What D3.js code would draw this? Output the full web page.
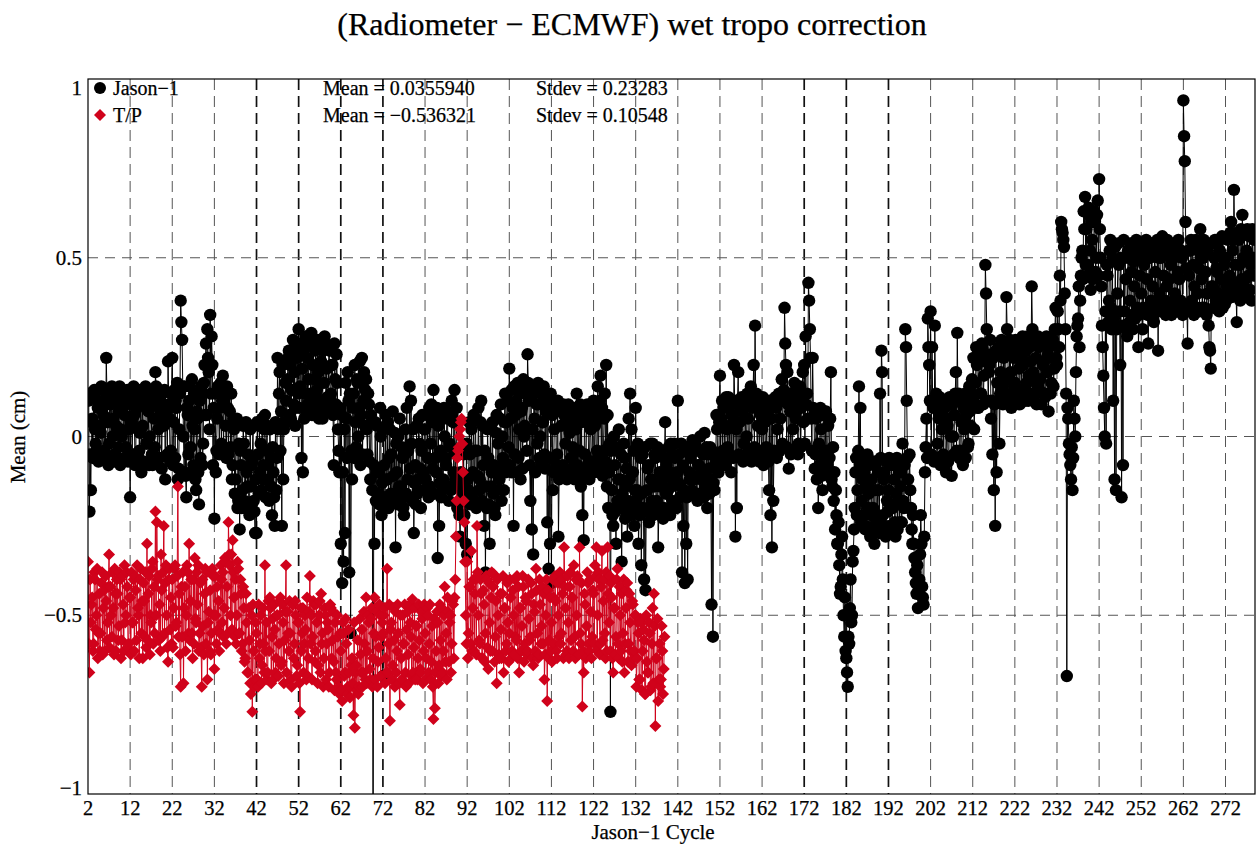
<!DOCTYPE html>
<html><head><meta charset="utf-8">
<script src="https://cdn.jsdelivr.net/npm/d3@7"></script>
<style>
html,body{margin:0;padding:0;background:#fff;}
svg{display:block;}
text{font-family:"Liberation Serif","Times New Roman",Times,serif;fill:#000;stroke:#000;stroke-width:0.25px;}
</style></head><body>
<svg id="chart" width="1259" height="844"></svg>
<script>
const title = "(Radiometer \u2212 ECMWF) wet tropo correction";
const xLabel = "Jason\u22121 Cycle";
const yLabel = "Mean (cm)";
const xTicks = [2,12,22,32,42,52,62,72,82,92,102,112,122,132,142,152,162,172,182,192,202,212,222,232,242,252,262,272];
const yTicks = [-1,-0.5,0,0.5,1];
const yTickLabels = ["\u22121","\u22120.5","0","0.5","1"];
const seriesNames = ["Jason\u22121","T/P"];
const seriesMeans = ["0.0355940","\u22120.536321"];
const seriesStdevs = ["0.23283","0.10548"];
const samplesPerCycle = 6;
const jasonStartCycle = 2;
const tpStartCycle = 2;

// Jason-1 means (cm), 6 samples per cycle from cycle 2
const jasonValues = [
/*2-3*/ 0.10,0.12,-0.21,-0.05,-0.15,0.04, 0.05,-0.06,0.11,0.13,0.02,-0.02,
/*4-5*/ -0.04,0.10,0.08,-0.07,0.13,0.03, 0.01,0.14,-0.06,0.08,0.06,-0.04,
/*6-7*/ 0.10,-0.05,0.22,0.12,0.04,-0.08, -0.02,0.11,0.09,-0.06,0.14,0.00,
/*8-9*/ 0.05,-0.07,-0.05,0.12,0.03,0.09, 0.12,-0.03,0.07,0.14,-0.08,0.02,
/*10-11*/ 0.00,0.13,0.11,-0.06,0.06,0.09, -0.03,0.10,0.13,-0.07,0.02,0.12,
/*12-13*/ -0.17,0.09,0.04,-0.05,0.12,0.14, 0.06,-0.08,-0.05,0.11,0.08,0.02,
/*14-15*/ 0.13,-0.04,0.01,0.09,-0.10,0.12, 0.03,-0.07,0.10,0.13,0.14,-0.02,
/*16-17*/ -0.02,0.11,0.07,-0.08,0.00,0.09, 0.09,-0.05,-0.08,0.12,0.05,-0.03,
/*18-19*/ 0.18,0.14,0.11,-0.06,0.02,0.08, -0.06,0.10,0.06,-0.09,0.12,0.04,
/*20-21*/ 0.03,0.13,-0.12,0.07,0.08,-0.05, 0.21,0.09,0.05,-0.07,-0.04,0.12,
/*22-23*/ 0.22,-0.08,0.04,0.13,-0.06,0.10, 0.08,0.15,-0.12,-0.09,0.02,0.12,
/*24-25*/ 0.38,0.32,0.27,0.14,0.00,-0.10, 0.14,-0.11,-0.17,0.08,0.06,-0.05,
/*26-27*/ 0.10,0.14,-0.03,-0.10,0.16,0.03, -0.08,0.12,0.02,-0.12,-0.15,0.07,
/*28-29*/ 0.05,-0.10,-0.19,0.10,-0.06,0.14, 0.12,-0.08,-0.02,0.15,0.20,0.06,
/*30-31*/ 0.26,0.06,0.30,0.22,0.18,0.02, 0.34,0.12,0.28,0.20,-0.08,0.08,
/*32-33*/ -0.23,0.12,-0.10,-0.04,0.05,0.14, 0.12,-0.05,0.08,0.15,-0.02,0.10,
/*34-35*/ 0.17,-0.04,0.10,0.13,0.03,-0.06, 0.14,0.08,-0.05,0.12,0.07,-0.03,
/*36-37*/ 0.12,-0.12,-0.08,0.05,0.02,-0.16, -0.12,0.04,0.05,-0.20,-0.18,-0.02,
/*38-39*/ -0.26,-0.04,-0.08,-0.20,-0.15,0.03, -0.02,-0.18,-0.20,0.04,-0.10,-0.14,
/*40-41*/ -0.05,-0.19,-0.22,0.02,-0.14,-0.08, -0.07,0.03,-0.18,-0.21,-0.27,-0.12,
/*42-43*/ -0.27,0.04,-0.05,-0.16,0.03,-0.10, -0.02,-0.15,0.05,-0.12,-0.08,0.02,
/*44-45*/ 0.06,-0.17,-0.04,0.03,-0.12,-0.08, -0.18,0.02,-0.06,-0.14,-0.22,-0.03,
/*46-47*/ -0.10,-0.17,-0.25,0.04,-0.15,-0.06, 0.22,0.02,0.12,0.18,-0.04,0.07,
/*48-49*/ -0.25,0.20,-0.12,0.02,0.04,0.15, 0.10,0.04,0.16,0.22,0.24,0.06,
/*50-51*/ 0.20,0.05,0.13,0.24,0.27,0.09, 0.18,0.03,0.08,0.25,0.22,0.12,
/*52-53*/ 0.30,0.08,0.14,0.26,-0.06,0.19, -0.10,0.24,0.05,0.12,0.28,0.07,
/*54-55*/ 0.22,0.09,0.16,0.28,0.26,0.12, 0.29,0.06,0.20,0.25,0.10,0.16,
/*56-57*/ 0.24,0.08,0.13,0.27,0.18,0.05, 0.27,0.10,0.21,0.06,0.05,0.24,
/*58-59*/ 0.15,0.28,0.26,0.07,0.19,0.11, 0.08,0.25,0.24,0.10,0.12,0.20,
/*60-61*/ 0.20,0.06,-0.08,0.26,0.16,0.09, 0.23,0.15,0.02,-0.04,-0.10,0.08,
/*62-63*/ -0.30,0.06,-0.41,-0.10,-0.35,0.02, -0.27,0.15,0.05,-0.06,0.18,0.10,
/*64-65*/ -0.38,0.12,-0.55,-0.04,-0.12,0.08, 0.12,-0.06,0.20,0.04,-0.03,0.16,
/*66-67*/ 0.15,0.00,0.08,0.21,-0.08,0.06, 0.22,-0.05,0.10,0.18,0.03,0.13,
/*68-69*/ 0.16,0.02,-0.05,0.12,0.09,-0.07, -0.12,0.06,0.04,-0.15,-1.30,-0.08,
/*70-71*/ -0.30,0.04,-0.18,-0.10,0.03,-0.16, -0.10,-0.19,0.08,0.00,-0.22,-0.13,
/*72-73*/ -0.67,0.02,-0.08,-0.17,0.06,-0.12, -0.12,0.04,-0.20,-0.06,0.02,-0.16,
/*74-75*/ -0.05,-0.18,0.07,-0.11,-0.16,0.01, -0.31,-0.02,-0.10,-0.19,0.00,-0.14,
/*76-77*/ 0.05,-0.18,-0.14,-0.03,-0.06,-0.20, -0.22,-0.05,0.02,-0.16,0.08,-0.12,
/*78-79*/ -0.04,-0.17,0.14,-0.09,0.10,-0.02, -0.18,0.02,-0.27,-0.13,-0.08,-0.19,
/*80-81*/ 0.03,-0.16,-0.12,0.05,-0.02,-0.09, -0.20,-0.04,0.06,-0.15,-0.10,0.02,
/*82-83*/ 0.02,-0.12,-0.15,0.06,-0.06,-0.17, 0.08,-0.14,-0.02,0.09,0.04,-0.09,
/*84-85*/ 0.13,-0.16,0.06,-0.06,-0.10,0.08, -0.34,0.03,-0.25,-0.13,-0.04,-0.17,
/*86-87*/ 0.05,-0.15,-0.12,0.08,0.00,-0.06, -0.08,0.05,0.07,-0.14,-0.18,-0.02,
/*88-89*/ -0.03,-0.15,0.10,0.06,0.04,-0.10, 0.13,-0.12,-0.05,0.08,-0.20,-0.14,
/*90-91*/ -0.12,-0.22,-0.28,-0.10,-0.18,-0.14, -0.16,-0.05,-0.22,-0.12,-0.30,-0.02,
/*92-93*/ -0.33,-0.12,-0.15,0.04,-0.05,-0.19, 0.02,-0.17,-0.10,0.06,-0.18,-0.04,
/*94-95*/ 0.05,-0.20,-0.04,-0.11,0.08,-0.15, -0.12,0.04,0.10,-0.18,0.03,-0.08,
/*96-97*/ -0.25,-0.04,-0.38,-0.14,-0.20,0.02, -0.06,-0.19,-0.30,0.03,-0.14,-0.10,
/*98-99*/ 0.04,-0.16,-0.08,-0.20,-0.22,0.01, 0.06,-0.15,-0.02,-0.09,-0.12,0.05,
/*100-101*/ 0.09,-0.18,0.00,-0.06,-0.15,0.04, 0.12,-0.10,0.04,0.10,-0.08,-0.03,
/*102-103*/ 0.19,-0.08,0.05,0.13,-0.10,0.08, -0.25,0.14,-0.05,0.06,0.10,-0.10,
/*104-105*/ 0.15,-0.06,0.02,0.12,-0.12,0.07, 0.08,-0.09,0.16,0.00,0.03,0.13,
/*106-107*/ 0.12,-0.04,0.23,0.15,0.10,-0.08, -0.18,0.11,-0.26,0.02,-0.33,0.14,
/*108-109*/ 0.05,-0.10,0.13,0.09,-0.02,0.15, 0.09,-0.06,0.00,0.12,-0.08,0.04,
/*110-111*/ 0.04,0.14,-0.05,-0.09,0.07,0.10, -0.24,0.08,-0.37,-0.06,-0.30,0.12,
/*112-113*/ -0.41,0.06,-0.15,-0.10,0.02,0.09, 0.08,-0.08,-0.05,0.10,-0.28,-0.12,
/*114-115*/ -0.10,0.07,0.03,-0.11,-0.08,0.09, 0.06,-0.09,-0.02,0.08,-0.12,0.03,
/*116-117*/ 0.09,-0.11,0.01,0.06,-0.06,-0.09, -0.03,0.08,0.05,-0.12,-0.10,0.02,
/*118-119*/ 0.12,-0.08,0.06,-0.11,-0.04,0.09, -0.14,0.04,-0.22,-0.09,-0.29,0.07,
/*120-121*/ -0.05,-0.11,0.04,0.09,0.08,-0.07, -0.12,0.06,0.02,-0.09,-0.07,0.08,
/*122-123*/ 0.10,-0.10,0.03,0.07,-0.08,-0.04, 0.14,-0.06,0.05,0.10,0.17,-0.09,
/*124-125*/ 0.08,-0.11,-0.04,0.05,0.12,-0.07, 0.20,-0.14,0.06,-0.20,-0.10,-0.02,
/*126-127*/ -0.77,-0.04,-0.15,-0.22,-0.25,0.00, -0.08,-0.21,-0.30,-0.03,-0.18,-0.12,
/*128-129*/ 0.02,-0.20,-0.12,-0.05,-0.35,-0.16, -0.20,-0.02,-0.06,-0.23,-0.14,-0.09,
/*130-131*/ -0.28,-0.18,0.05,-0.12,0.12,-0.22, 0.02,-0.20,-0.10,-0.04,-0.25,-0.15,
/*132-133*/ 0.08,-0.18,-0.15,-0.02,-0.30,-0.22, -0.22,-0.06,-0.36,-0.16,-0.05,-0.20,
/*134-135*/ -0.40,-0.03,-0.43,-0.21,-0.15,-0.09, -0.08,-0.24,-0.20,-0.02,-0.12,-0.18,
/*136-137*/ -0.02,-0.22,-0.14,-0.05,-0.06,-0.19, -0.18,-0.03,-0.31,-0.21,-0.10,-0.14,
/*138-139*/ -0.04,-0.20,-0.12,-0.23,-0.20,-0.06, 0.04,-0.16,-0.08,-0.21,-0.15,-0.03,
/*140-141*/ -0.10,-0.22,-0.02,-0.14,-0.18,-0.05, -0.12,-0.02,-0.06,-0.19,-0.20,-0.10,
/*142-143*/ 0.10,-0.13,-0.05,-0.17,-0.14,-0.02, -0.38,-0.08,-0.25,-0.15,-0.41,-0.04,
/*144-145*/ -0.30,-0.17,-0.40,-0.03,-0.10,-0.12, -0.06,-0.16,-0.15,-0.01,-0.02,-0.11,
/*146-147*/ -0.12,-0.02,-0.04,-0.17,-0.18,-0.08, -0.08,-0.16,0.00,-0.12,-0.10,-0.04,
/*148-149*/ -0.05,-0.17,0.01,-0.10,-0.14,-0.03, -0.20,-0.05,-0.09,-0.16,-0.03,-0.12,
/*150-151*/ -0.47,-0.04,-0.56,-0.13,-0.15,-0.08, -0.06,0.06,0.02,-0.09,-0.10,0.04,
/*152-153*/ 0.17,-0.06,0.05,0.10,-0.04,0.08, 0.08,-0.07,-0.08,0.11,0.02,-0.03,
/*154-155*/ 0.11,-0.05,0.03,0.09,-0.10,0.06, 0.06,-0.06,0.20,0.10,-0.28,0.02,
/*156-157*/ -0.20,0.10,0.18,-0.05,0.04,0.08, -0.06,0.11,0.07,-0.07,-0.02,0.09,
/*158-159*/ 0.10,-0.05,0.00,0.12,0.05,-0.06, -0.04,0.09,0.14,-0.07,0.08,0.11,
/*160-161*/ 0.20,-0.03,0.31,0.10,0.12,-0.06, 0.03,0.10,-0.07,0.08,0.06,-0.04,
/*162-163*/ 0.02,0.11,-0.08,0.07,0.04,-0.05, -0.03,0.09,0.06,-0.07,-0.15,0.10,
/*164-165*/ -0.22,0.05,-0.31,0.09,-0.18,-0.04, -0.05,0.11,0.08,-0.06,0.02,0.10,
/*166-167*/ 0.12,-0.04,0.05,0.10,0.16,-0.02, 0.10,0.13,0.36,0.26,0.20,-0.03,
/*168-169*/ 0.18,0.09,-0.09,0.12,0.07,-0.05, 0.12,-0.04,0.02,0.10,0.15,0.06,
/*170-171*/ 0.05,0.12,0.10,-0.05,-0.02,0.08, 0.14,-0.03,0.08,0.11,0.18,0.04,
/*172-173*/ 0.20,-0.02,0.28,0.09,0.12,0.05, 0.43,0.38,0.30,0.22,0.05,-0.04,
/*174-175*/ 0.22,0.08,0.06,-0.09,-0.05,0.05, -0.12,0.06,-0.20,-0.02,-0.08,0.08,
/*176-177*/ 0.02,-0.11,-0.15,0.06,0.07,-0.06, -0.04,0.07,-0.10,-0.08,0.03,0.05,
/*178-179*/ -0.06,0.05,0.18,-0.12,-0.14,-0.03, -0.18,-0.10,-0.26,-0.15,-0.22,-0.30,
/*180-181*/ -0.30,-0.24,-0.36,-0.44,-0.42,-0.33, -0.28,-0.40,-0.50,-0.56,-0.45,-0.60,
/*182-183*/ -0.62,-0.66,-0.70,-0.56,-0.58,-0.48, -0.40,-0.52,-0.50,-0.35,-0.32,-0.26,
/*184-185*/ -0.20,-0.10,-0.06,-0.22,-0.15,-0.04, 0.14,-0.08,0.08,-0.24,-0.18,-0.12,
/*186-187*/ -0.22,-0.06,-0.10,-0.26,-0.25,-0.14, -0.05,-0.20,-0.16,-0.08,-0.28,-0.22,
/*188-189*/ -0.12,-0.26,-0.20,-0.07,-0.30,-0.15, -0.08,-0.24,-0.22,-0.10,-0.15,-0.27,
/*190-191*/ 0.12,-0.06,0.24,0.18,-0.22,-0.12, -0.10,-0.25,-0.28,-0.07,-0.18,-0.21,
/*192-193*/ -0.15,-0.06,-0.25,-0.20,-0.08,-0.27, -0.20,-0.08,-0.12,-0.24,-0.28,-0.16,
/*194-195*/ -0.06,-0.26,-0.18,-0.10,-0.24,-0.14, -0.10,-0.24,-0.02,-0.18,-0.20,-0.08,
/*196-197*/ 0.30,0.25,0.10,-0.06,-0.12,-0.20, -0.05,-0.15,-0.20,-0.26,-0.30,-0.22,
/*198-199*/ -0.30,-0.34,-0.38,-0.41,-0.44,-0.36, -0.48,-0.43,-0.40,-0.33,-0.22,-0.30,
/*200-201*/ -0.42,-0.45,-0.47,-0.28,-0.10,-0.03, 0.05,-0.06,0.33,0.25,0.20,0.10,
/*202-203*/ 0.35,-0.05,0.25,0.09,0.08,-0.07, 0.31,0.10,0.12,-0.06,-0.02,0.07,
/*204-205*/ 0.05,0.11,-0.08,-0.06,0.02,0.09, -0.05,0.10,0.08,-0.08,-0.10,0.05,
/*206-207*/ 0.03,-0.07,-0.06,0.11,0.10,0.00, -0.11,0.09,0.00,-0.05,0.06,0.12,
/*208-209*/ 0.18,-0.04,0.29,0.10,0.12,-0.06, -0.04,0.11,0.04,-0.07,-0.08,0.08,
/*210-211*/ 0.02,0.12,-0.06,0.06,0.09,-0.03, -0.02,0.14,0.07,0.03,0.12,0.16,
/*212-213*/ 0.10,0.22,0.02,0.09,0.15,0.25, 0.20,0.08,0.08,0.24,0.22,0.12,
/*214-215*/ 0.12,0.26,0.25,0.09,0.17,0.21, 0.48,0.40,0.30,0.23,0.10,0.18,
/*216-217*/ 0.20,0.27,0.05,0.10,-0.05,0.22, -0.15,0.09,-0.25,0.24,-0.10,0.15,
/*218-219*/ 0.10,0.25,-0.02,0.12,0.18,0.27, 0.14,0.09,0.22,0.26,0.12,0.17,
/*220-221*/ 0.39,0.30,0.24,0.10,0.16,0.27, 0.18,0.08,0.12,0.25,0.22,0.14,
/*222-223*/ 0.15,0.27,0.22,0.10,0.11,0.24, 0.19,0.09,0.26,0.22,0.13,0.28,
/*224-225*/ 0.20,0.12,0.10,0.27,0.24,0.15, 0.28,0.10,0.17,0.25,0.12,0.21,
/*226-227*/ 0.42,0.30,0.18,0.11,0.16,0.27, 0.22,0.09,0.14,0.28,0.25,0.13,
/*228-229*/ 0.16,0.26,0.09,0.21,0.20,0.12, 0.26,0.11,0.12,0.28,0.18,0.23,
/*230-231*/ 0.07,0.25,0.22,0.12,0.15,0.27, 0.27,0.14,0.19,0.30,0.36,0.22,
/*232-233*/ 0.20,0.35,0.30,0.25,0.45,0.38, 0.60,0.58,0.57,0.55,0.53,0.40,
/*234-235*/ 0.30,0.12,-0.67,0.08,0.05,-0.02, -0.05,-0.08,-0.12,-0.03,-0.15,-0.06,
/*236-237*/ 0.10,0.05,0.00,0.18,0.28,0.31, 0.33,0.42,0.25,0.38,0.45,0.50,
/*238-239*/ 0.52,0.44,0.63,0.58,0.67,0.48, 0.58,0.45,0.48,0.64,0.62,0.52,
/*240-241*/ 0.41,0.60,0.55,0.44,0.46,0.63, 0.60,0.46,0.50,0.62,0.66,0.45,
/*242-243*/ 0.72,0.58,0.50,0.42,0.31,0.25, 0.17,0.08,0.00,0.35,-0.02,0.48,
/*244-245*/ 0.45,0.32,0.38,0.52,0.55,0.36, 0.30,0.50,0.10,0.33,-0.12,0.53,
/*246-247*/ -0.15,0.30,0.40,0.54,0.48,0.35, 0.20,0.50,-0.17,0.31,-0.08,0.55,
/*248-249*/ 0.35,0.50,0.44,0.30,0.28,0.52, 0.50,0.32,0.38,0.54,0.46,0.34,
/*250-251*/ 0.30,0.49,0.42,0.33,0.52,0.55, 0.36,0.53,0.25,0.34,0.45,0.50,
/*252-253*/ 0.40,0.54,0.30,0.36,0.48,0.52, 0.35,0.55,0.44,0.34,0.26,0.50,
/*254-255*/ 0.50,0.36,0.38,0.54,0.42,0.33, 0.32,0.52,0.46,0.37,0.36,0.55,
/*256-257*/ 0.24,0.50,0.40,0.35,0.50,0.54, 0.56,0.36,0.45,0.52,0.38,0.34,
/*258-259*/ 0.42,0.55,0.52,0.36,0.44,0.50, 0.48,0.34,0.36,0.53,0.50,0.38,
/*260-261*/ 0.40,0.52,0.54,0.35,0.46,0.55, 0.44,0.36,0.38,0.52,0.50,0.34,
/*262-263*/ 0.94,0.84,0.77,0.60,0.47,0.36, 0.26,0.52,0.45,0.36,0.52,0.55,
/*264-265*/ 0.38,0.54,0.48,0.34,0.42,0.53, 0.55,0.36,0.40,0.52,0.47,0.35,
/*266-267*/ 0.58,0.50,0.44,0.36,0.50,0.55, 0.36,0.53,0.46,0.34,0.40,0.52,
/*268-269*/ 0.31,0.25,0.24,0.19,0.42,0.54, 0.42,0.36,0.50,0.55,0.38,0.47,
/*270-271*/ 0.46,0.54,0.40,0.35,0.52,0.38, 0.44,0.56,0.36,0.50,0.48,0.37,
/*272-273*/ 0.50,0.38,0.42,0.55,0.56,0.40, 0.45,0.57,0.60,0.39,0.52,0.43,
/*274-275*/ 0.69,0.55,0.48,0.40,0.32,0.56, 0.40,0.55,0.48,0.38,0.58,0.44,
/*276-277*/ 0.62,0.42,0.50,0.57,0.44,0.39, 0.52,0.58,0.40,0.45,0.56,0.41,
/*278*/ 0.48,0.38,0.58,0.50,0.45,0.55
];

// T/P means (cm), 6 samples per cycle from cycle 2
const tpValues = [
/*2-3*/ -0.35,-0.58,-0.66,-0.40,-0.52,-0.47, -0.45,-0.60,-0.58,-0.38,-0.40,-0.54,
/*4-5*/ -0.50,-0.37,-0.62,-0.55,-0.44,-0.60, -0.55,-0.41,-0.38,-0.61,-0.48,-0.43,
/*6-7*/ -0.60,-0.39,-0.46,-0.57,-0.52,-0.42, -0.33,-0.59,-0.42,-0.50,-0.56,-0.38,
/*8-9*/ -0.48,-0.61,-0.37,-0.44,-0.60,-0.40, -0.44,-0.57,-0.53,-0.38,-0.40,-0.62,
/*10-11*/ -0.57,-0.39,-0.47,-0.60,-0.36,-0.52, -0.50,-0.38,-0.42,-0.59,-0.58,-0.45,
/*12-13*/ -0.45,-0.61,-0.38,-0.52,-0.52,-0.40, -0.60,-0.39,-0.43,-0.57,-0.36,-0.48,
/*14-15*/ -0.50,-0.62,-0.40,-0.37,-0.55,-0.46, -0.62,-0.41,-0.46,-0.56,-0.38,-0.59,
/*16-17*/ -0.30,-0.57,-0.44,-0.39,-0.61,-0.50, -0.52,-0.37,-0.35,-0.58,-0.42,-0.55,
/*18-19*/ -0.21,-0.50,-0.24,-0.40,-0.39,-0.57, -0.47,-0.60,-0.33,-0.43,-0.56,-0.38,
/*20-21*/ -0.25,-0.55,-0.41,-0.36,-0.50,-0.59, -0.63,-0.40,-0.37,-0.54,-0.45,-0.58,
/*22-23*/ -0.40,-0.59,-0.48,-0.37,-0.36,-0.53, -0.52,-0.39,-0.14,-0.56,-0.44,-0.61,
/*24-25*/ -0.70,-0.42,-0.56,-0.38,-0.69,-0.48, -0.42,-0.60,-0.50,-0.36,-0.38,-0.55,
/*26-27*/ -0.30,-0.57,-0.46,-0.40,-0.55,-0.62, -0.40,-0.58,-0.34,-0.51,-0.52,-0.38,
/*28-29*/ -0.47,-0.36,-0.60,-0.55,-0.41,-0.59, -0.70,-0.40,-0.53,-0.61,-0.44,-0.37,
/*30-31*/ -0.58,-0.38,-0.68,-0.52,-0.49,-0.60, -0.43,-0.61,-0.55,-0.37,-0.39,-0.50,
/*32-33*/ -0.65,-0.39,-0.50,-0.58,-0.42,-0.54, -0.46,-0.60,-0.55,-0.36,-0.40,-0.52,
/*34-35*/ -0.38,-0.56,-0.48,-0.34,-0.35,-0.58, -0.42,-0.55,-0.24,-0.33,-0.36,-0.50,
/*36-37*/ -0.33,-0.54,-0.29,-0.38,-0.45,-0.56, -0.40,-0.58,-0.50,-0.35,-0.37,-0.55,
/*38-39*/ -0.55,-0.40,-0.44,-0.60,-0.58,-0.42, -0.48,-0.63,-0.62,-0.44,-0.52,-0.66,
/*40-41*/ -0.66,-0.48,-0.57,-0.69,-0.72,-0.50, -0.77,-0.47,-0.60,-0.70,-0.68,-0.52,
/*42-43*/ -0.55,-0.68,-0.70,-0.47,-0.62,-0.58, -0.50,-0.69,-0.64,-0.48,-0.58,-0.66,
/*44-45*/ -0.36,-0.60,-0.52,-0.68,-0.66,-0.46, -0.60,-0.45,-0.48,-0.69,-0.56,-0.51,
/*46-47*/ -0.68,-0.47,-0.54,-0.66,-0.62,-0.50, -0.50,-0.67,-0.58,-0.46,-0.45,-0.64,
/*48-49*/ -0.63,-0.47,-0.52,-0.69,-0.57,-0.49, -0.36,-0.66,-0.49,-0.55,-0.60,-0.46,
/*50-51*/ -0.55,-0.68,-0.70,-0.47,-0.47,-0.62, -0.58,-0.46,-0.50,-0.67,-0.64,-0.52,
/*52-53*/ -0.52,-0.69,-0.77,-0.48,-0.60,-0.55, -0.48,-0.66,-0.58,-0.50,-0.54,-0.68,
/*54-55*/ -0.45,-0.67,-0.62,-0.49,-0.39,-0.58, -0.50,-0.68,-0.56,-0.46,-0.47,-0.63,
/*56-57*/ -0.60,-0.47,-0.52,-0.69,-0.64,-0.50, -0.46,-0.66,-0.44,-0.58,-0.55,-0.70,
/*58-59*/ -0.62,-0.48,-0.50,-0.68,-0.58,-0.52, -0.54,-0.70,-0.66,-0.47,-0.48,-0.62,
/*60-61*/ -0.57,-0.49,-0.63,-0.71,-0.52,-0.66, -0.68,-0.50,-0.56,-0.70,-0.72,-0.55,
/*62-63*/ -0.60,-0.71,-0.74,-0.52,-0.55,-0.67, -0.66,-0.51,-0.58,-0.72,-0.70,-0.54,
/*64-65*/ -0.66,-0.73,-0.70,-0.64,-0.62,-0.69, -0.78,-0.52,-0.815,-0.66,-0.64,-0.71,
/*66-67*/ -0.57,-0.72,-0.70,-0.51,-0.61,-0.66, -0.54,-0.70,-0.66,-0.49,-0.58,-0.68,
/*68-69*/ -0.45,-0.69,-0.60,-0.50,-0.52,-0.65, -0.68,-0.51,-0.48,-0.70,-0.62,-0.55,
/*70-71*/ -0.45,-0.68,-0.56,-0.49,-0.70,-0.63, -0.59,-0.47,-0.50,-0.67,-0.56,-0.52,
/*72-73*/ -0.55,-0.50,-0.48,-0.69,-0.62,-0.66, -0.37,-0.66,-0.58,-0.47,-0.795,-0.54,
/*74-75*/ -0.52,-0.68,-0.64,-0.48,-0.57,-0.70, -0.49,-0.66,-0.60,-0.47,-0.55,-0.69,
/*76-77*/ -0.75,-0.50,-0.62,-0.68,-0.50,-0.58, -0.58,-0.47,-0.66,-0.70,-0.54,-0.49,
/*78-79*/ -0.61,-0.69,-0.47,-0.52,-0.56,-0.67, -0.455,-0.66,-0.59,-0.48,-0.68,-0.53,
/*80-81*/ -0.53,-0.68,-0.62,-0.47,-0.57,-0.65, -0.66,-0.49,-0.51,-0.69,-0.60,-0.47,
/*82-83*/ -0.55,-0.68,-0.62,-0.48,-0.50,-0.66, -0.58,-0.47,-0.68,-0.63,-0.53,-0.70,
/*84-85*/ -0.79,-0.51,-0.76,-0.66,-0.60,-0.49, -0.52,-0.69,-0.64,-0.47,-0.57,-0.67,
/*86-87*/ -0.48,-0.66,-0.60,-0.50,-0.42,-0.63, -0.55,-0.68,-0.45,-0.49,-0.63,-0.52,
/*88-89*/ -0.50,-0.66,-0.58,-0.46,-0.47,-0.62, -0.45,-0.40,-0.28,-0.18,-0.06,-0.04,
/*90-91*/ -0.03,0.00,0.02,0.04,0.05,-0.02, -0.10,-0.18,-0.24,-0.35,-0.50,-0.58,
/*92-93*/ -0.35,-0.62,-0.55,-0.42,-0.42,-0.58, -0.32,-0.60,-0.48,-0.40,-0.60,-0.44,
/*94-95*/ -0.40,-0.61,-0.25,-0.38,-0.50,-0.57, -0.58,-0.40,-0.44,-0.62,-0.62,-0.43,
/*96-97*/ -0.47,-0.63,-0.55,-0.39,-0.40,-0.59, -0.65,-0.41,-0.52,-0.60,-0.45,-0.38,
/*98-99*/ -0.60,-0.42,-0.385,-0.63,-0.56,-0.46, -0.69,-0.40,-0.50,-0.61,-0.62,-0.44,
/*100-101*/ -0.54,-0.62,-0.44,-0.39,-0.66,-0.48, -0.48,-0.60,-0.58,-0.41,-0.52,-0.63,
/*102-103*/ -0.55,-0.40,-0.45,-0.62,-0.60,-0.43, -0.50,-0.61,-0.40,-0.56,-0.57,-0.39,
/*104-105*/ -0.62,-0.42,-0.66,-0.48,-0.48,-0.60, -0.53,-0.39,-0.42,-0.63,-0.58,-0.45,
/*106-107*/ -0.46,-0.61,-0.60,-0.40,-0.51,-0.57, -0.56,-0.41,-0.44,-0.62,-0.64,-0.47,
/*108-109*/ -0.49,-0.60,-0.37,-0.43,-0.55,-0.62, -0.61,-0.40,-0.47,-0.58,-0.53,-0.42,
/*110-111*/ -0.58,-0.44,-0.68,-0.61,-0.50,-0.40, -0.74,-0.43,-0.62,-0.57,-0.45,-0.60,
/*112-113*/ -0.52,-0.63,-0.40,-0.45,-0.58,-0.39, -0.46,-0.60,-0.62,-0.41,-0.50,-0.56,
/*114-115*/ -0.38,-0.58,-0.55,-0.40,-0.44,-0.62, -0.31,-0.42,-0.48,-0.61,-0.60,-0.39,
/*116-117*/ -0.52,-0.62,-0.42,-0.38,-0.57,-0.45, -0.45,-0.60,-0.36,-0.56,-0.62,-0.40,
/*118-119*/ -0.50,-0.39,-0.40,-0.61,-0.31,-0.55, -0.58,-0.41,-0.755,-0.60,-0.66,-0.44,
/*120-121*/ -0.47,-0.62,-0.53,-0.38,-0.41,-0.58, -0.60,-0.40,-0.49,-0.62,-0.56,-0.43,
/*122-123*/ -0.44,-0.58,-0.36,-0.39,-0.31,-0.60, -0.50,-0.38,-0.40,-0.61,-0.58,-0.42,
/*124-125*/ -0.32,-0.57,-0.46,-0.40,-0.55,-0.62, -0.38,-0.60,-0.31,-0.44,-0.52,-0.39,
/*126-127*/ -0.60,-0.41,-0.45,-0.62,-0.66,-0.48, -0.48,-0.61,-0.56,-0.40,-0.37,-0.58,
/*128-129*/ -0.62,-0.42,-0.50,-0.60,-0.44,-0.63, -0.55,-0.40,-0.66,-0.58,-0.48,-0.43,
/*130-131*/ -0.41,-0.63,-0.58,-0.44,-0.52,-0.60, -0.64,-0.46,-0.47,-0.62,-0.60,-0.50,
/*132-133*/ -0.50,-0.70,-0.62,-0.52,-0.55,-0.68, -0.68,-0.51,-0.52,-0.71,-0.60,-0.54,
/*134-135*/ -0.57,-0.72,-0.72,-0.50,-0.63,-0.66, -0.66,-0.52,-0.55,-0.71,-0.70,-0.58,
/*136-137*/ -0.48,-0.69,-0.44,-0.53,-0.81,-0.62, -0.62,-0.51,-0.74,-0.68,-0.58,-0.70,
/*138*/ -0.68,-0.53,-0.60,-0.72,-0.65,-0.56
];

const boldGridCycles = [42,52,62,72,172,182,192];
const jasonColor = "#000000";
const tpColor = "#d0021b";

const plot = {left:88, right:1255, top:79, bottom:794};
const svg = d3.select("#chart");
const x = d3.scaleLinear().domain([2,279]).range([plot.left, plot.right]);
const y = d3.scaleLinear().domain([-1,1]).range([plot.bottom, plot.top]);

const toPoints = (vals, start) => vals.map((v,i) => ({c: start + i/samplesPerCycle, v}));
const jason = toPoints(jasonValues, jasonStartCycle);
const tp = toPoints(tpValues, tpStartCycle);

svg.append("defs").append("clipPath").attr("id","plotClip").append("rect")
  .attr("x",plot.left).attr("y",plot.top)
  .attr("width",plot.right-plot.left).attr("height",plot.bottom-plot.top);

// grid
const grid = svg.append("g");
grid.selectAll("line.vg").data(xTicks.filter(t => t > 2)).join("line").attr("class","vg")
  .attr("x1",d=>x(d)).attr("x2",d=>x(d)).attr("y1",plot.top).attr("y2",plot.bottom)
  .attr("stroke",d=>boldGridCycles.includes(d)?"#111":"#555")
  .attr("stroke-width",d=>boldGridCycles.includes(d)?1.7:1)
  .attr("stroke-dasharray","11,6");
grid.selectAll("line.hg").data([-0.5,0,0.5]).join("line").attr("class","hg")
  .attr("x1",plot.left).attr("x2",plot.right).attr("y1",d=>y(d)).attr("y2",d=>y(d))
  .attr("stroke","#555").attr("stroke-width",1).attr("stroke-dasharray","10,7");

// data
const dataG = svg.append("g").attr("clip-path","url(#plotClip)");
const line = d3.line().x(d=>x(d.c)).y(d=>y(d.v));
const diamond = h => `M0,${-h}L${h},0L0,${h}L${-h},0Z`;

function drawJason(){
  dataG.append("path").datum(jason).attr("d",line).attr("fill","none")
    .attr("stroke",jasonColor).attr("stroke-width",1);
  dataG.append("g").selectAll("circle").data(jason).join("circle")
    .attr("cx",d=>x(d.c)).attr("cy",d=>y(d.v)).attr("r",6.2).attr("fill",jasonColor);
}
function drawTP(){
  dataG.append("path").datum(tp).attr("d",line).attr("fill","none")
    .attr("stroke",tpColor).attr("stroke-width",1);
  dataG.append("g").selectAll("path").data(tp).join("path")
    .attr("d",diamond(6)).attr("transform",d=>`translate(${x(d.c)},${y(d.v)})`)
    .attr("fill",tpColor);
}
drawJason();
drawTP();

// frame
svg.append("rect").attr("x",plot.left).attr("y",plot.top)
  .attr("width",plot.right-plot.left).attr("height",plot.bottom-plot.top)
  .attr("fill","none").attr("stroke","#000").attr("stroke-width",1.2);

// x tick labels
svg.append("g").selectAll("text").data(xTicks).join("text")
  .attr("x",d=>x(d)).attr("y",815).attr("text-anchor","middle")
  .attr("font-size",20.5).text(d=>d);

// y tick labels
svg.append("g").selectAll("text").data(yTicks).join("text")
  .attr("x",82)
  .attr("y",d=>{ const p=y(d); return Math.min(Math.max(p, plot.top+9), plot.bottom-6)+7; })
  .attr("text-anchor","end").attr("font-size",21)
  .text((d,i)=>yTickLabels[i]);

// title & axis labels
svg.append("text").attr("x",632).attr("y",35).attr("text-anchor","middle")
  .attr("font-size",32).text(title);
svg.append("text").attr("x",653).attr("y",838.5).attr("text-anchor","middle")
  .attr("font-size",21).text(xLabel);
svg.append("text").attr("transform","translate(25,437) rotate(-90)")
  .attr("text-anchor","middle").attr("font-size",21).text(yLabel);

// legend
const leg = svg.append("g");
leg.append("circle").attr("cx",100).attr("cy",88).attr("r",6).attr("fill",jasonColor);
leg.append("path").attr("d",diamond(6)).attr("transform","translate(100,115)").attr("fill",tpColor);
[0,1].forEach(i=>{
  const yy = 95 + i*27;
  leg.append("text").attr("x",113).attr("y",yy).attr("font-size",20).text(seriesNames[i]);
  leg.append("text").attr("x",323).attr("y",yy).attr("font-size",20).text("Mean = " + seriesMeans[i]);
  leg.append("text").attr("x",536).attr("y",yy).attr("font-size",20).text("Stdev = " + seriesStdevs[i]);
});
</script>
</body></html>
